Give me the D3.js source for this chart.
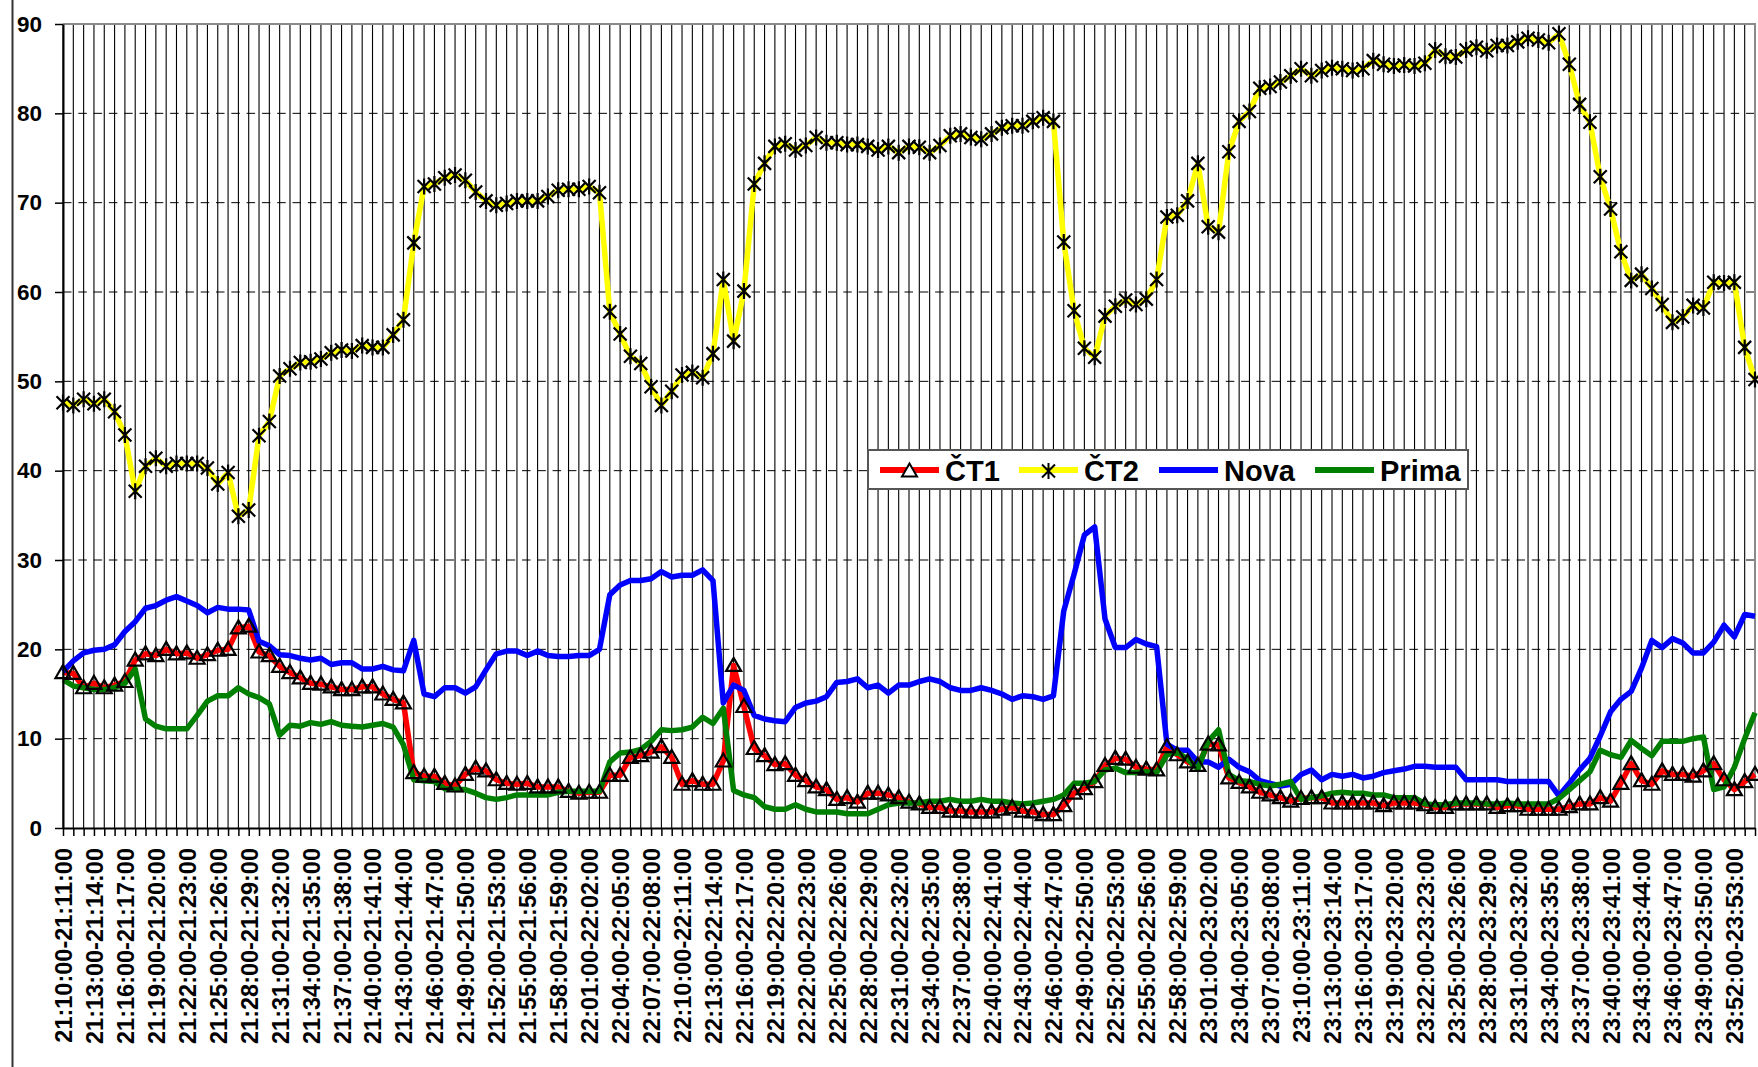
<!DOCTYPE html>
<html>
<head>
<meta charset="utf-8">
<script src="https://cdn.jsdelivr.net/npm/d3@7/dist/d3.min.js"></script>
<style>
  html, body { margin: 0; padding: 0; background: #fff; }
  svg { display: block; font-family: "Liberation Sans", Arial, sans-serif; }
</style>
</head>
<body>
<svg id="chart" width="1758" height="1067"></svg>
<script>
/* ── data ── */
const startMinute = 21 * 60 + 10; // first interval 21:10:00-21:11:00
const pointCount = 165;

const ct1 = [
  17.4, 17.3, 15.7, 16.2, 15.7, 16.0, 16.4, 18.8, 19.5, 19.3,
  20.0, 19.5, 19.6, 19.0, 19.4, 19.9, 20.0, 22.4, 22.6, 19.7,
  19.3, 18.1, 17.4, 16.8, 16.2, 16.1, 15.8, 15.5, 15.5, 15.8,
  15.8, 15.0, 14.4, 14.0, 6.2, 5.8, 5.8, 5.0, 4.7, 6.0,
  6.7, 6.4, 5.4, 5.0, 4.9, 5.0, 4.6, 4.6, 4.6, 4.1,
  3.9, 4.0, 4.0, 5.9, 5.9, 7.9, 8.1, 8.5, 9.1, 7.9,
  4.9, 5.3, 4.9, 4.9, 7.5, 18.2, 13.6, 8.9, 8.1, 7.1,
  7.2, 5.9, 5.3, 4.6, 4.3, 3.2, 3.4, 2.9, 3.9, 3.9,
  3.7, 3.4, 2.9, 2.7, 2.3, 2.3, 1.9, 1.9, 1.8, 1.8,
  1.8, 2.1, 2.3, 1.9, 1.8, 1.5, 1.5, 2.5, 3.9, 4.4,
  5.2, 7.0, 7.8, 7.7, 6.8, 6.6, 6.5, 9.1, 8.2, 7.4,
  7.0, 9.4, 9.3, 5.6, 5.1, 4.6, 4.0, 3.7, 3.4, 3.0,
  3.3, 3.4, 3.4, 2.8, 2.8, 2.8, 2.8, 2.8, 2.5, 2.8,
  2.8, 2.8, 2.6, 2.3, 2.3, 2.7, 2.7, 2.7, 2.7, 2.3,
  2.5, 2.5, 2.1, 2.1, 2.1, 2.1, 2.4, 2.7, 2.7, 3.4,
  3.0, 5.0, 7.2, 5.3, 4.9, 6.4, 6.0, 6.0, 5.8, 6.4,
  7.2, 5.4, 4.3, 5.2, 6.0
];

const ct2 = [
  47.6, 47.3, 48.0, 47.5, 48.0, 46.6, 44.0, 37.7, 40.5, 41.4,
  40.5, 40.8, 40.8, 40.8, 40.3, 38.5, 39.8, 34.9, 35.6, 43.9,
  45.5, 50.6, 51.4, 52.1, 52.2, 52.5, 53.2, 53.5, 53.4, 54.0,
  53.8, 53.8, 55.2, 56.9, 65.5, 71.8, 72.1, 72.8, 73.1, 72.5,
  71.2, 70.2, 69.7, 69.9, 70.2, 70.2, 70.2, 70.7, 71.4, 71.5,
  71.5, 71.8, 71.1, 57.8, 55.3, 52.8, 52.0, 49.4, 47.3, 48.9,
  50.7, 51.0, 50.4, 53.1, 61.4, 54.5, 60.1, 72.1, 74.4, 76.3,
  76.6, 75.9, 76.4, 77.3, 76.7, 76.7, 76.5, 76.5, 76.3, 75.9,
  76.3, 75.6, 76.3, 76.2, 75.6, 76.4, 77.5, 77.7, 77.3, 77.1,
  77.7, 78.4, 78.6, 78.6, 79.1, 79.5, 79.1, 65.6, 57.9, 53.7,
  52.7, 57.3, 58.4, 59.1, 58.6, 59.2, 61.4, 68.4, 68.6, 70.2,
  74.4, 67.3, 66.7, 75.7, 79.1, 80.2, 82.8, 83.0, 83.5, 84.2,
  85.0, 84.2, 84.8, 85.1, 85.0, 84.8, 85.0, 85.9, 85.5, 85.3,
  85.4, 85.3, 85.6, 87.1, 86.4, 86.3, 87.1, 87.4, 87.0, 87.6,
  87.6, 88.0, 88.4, 88.2, 87.9, 88.9, 85.5, 81.0, 79.0, 72.9,
  69.3, 64.5, 61.3, 62.0, 60.4, 58.6, 56.6, 57.2, 58.5, 58.2,
  61.1, 61.0, 61.1, 53.8, 50.2
];

const nova = [
  17.5, 18.7, 19.6, 19.9, 20.0, 20.5, 22.0, 23.1, 24.6, 24.9,
  25.5, 25.9, 25.4, 24.9, 24.1, 24.7, 24.5, 24.5, 24.4, 20.9,
  20.4, 19.4, 19.3, 19.0, 18.8, 19.0, 18.3, 18.5, 18.5, 17.8,
  17.8, 18.1, 17.7, 17.6, 21.0, 15.0, 14.7, 15.7, 15.7, 15.1,
  15.8, 17.7, 19.5, 19.8, 19.8, 19.3, 19.8, 19.3, 19.2, 19.2,
  19.3, 19.3, 20.0, 26.1, 27.2, 27.7, 27.7, 27.9, 28.7, 28.1,
  28.3, 28.3, 28.9, 27.7, 14.0, 16.0, 15.4, 12.6, 12.2, 12.0,
  11.9, 13.5, 14.0, 14.2, 14.7, 16.3, 16.4, 16.7, 15.7, 16.0,
  15.1, 16.0, 16.0, 16.4, 16.7, 16.4, 15.7, 15.4, 15.4, 15.7,
  15.4, 15.0, 14.4, 14.8, 14.7, 14.4, 14.8, 24.3, 28.4, 32.8,
  33.7, 23.4, 20.2, 20.2, 21.1, 20.6, 20.3, 9.4, 8.7, 8.7,
  7.4, 7.4, 6.8, 7.7, 6.8, 6.3, 5.3, 5.0, 4.7, 4.9,
  6.0, 6.5, 5.4, 6.0, 5.8, 6.0, 5.6, 5.8, 6.2, 6.4,
  6.6, 6.9, 6.9, 6.8, 6.8, 6.8, 5.4, 5.4, 5.4, 5.4,
  5.2, 5.2, 5.2, 5.2, 5.2, 3.6, 5.0, 6.5, 7.8, 10.3,
  13.0, 14.4, 15.3, 17.9, 21.0, 20.2, 21.2, 20.7, 19.6, 19.6,
  20.8, 22.7, 21.4, 23.9, 23.7
];

const prima = [
  16.6, 15.9, 15.7, 15.5, 15.5, 15.7, 16.2, 17.8, 12.2, 11.4,
  11.1, 11.1, 11.1, 12.6, 14.2, 14.8, 14.8, 15.7, 15.0, 14.6,
  13.9, 10.4, 11.5, 11.4, 11.8, 11.6, 11.9, 11.5, 11.4, 11.3,
  11.5, 11.7, 11.3, 9.3, 5.4, 5.3, 5.2, 4.4, 4.3, 4.3,
  3.9, 3.4, 3.2, 3.4, 3.7, 3.7, 3.7, 3.7, 4.0, 4.1,
  4.1, 4.1, 4.1, 7.4, 8.4, 8.5, 8.8, 9.7, 11.0, 10.9,
  11.0, 11.3, 12.4, 11.7, 13.4, 4.2, 3.7, 3.4, 2.4, 2.1,
  2.1, 2.6, 2.1, 1.8, 1.8, 1.8, 1.6, 1.6, 1.6, 2.1,
  2.6, 2.8, 2.8, 2.8, 3.0, 3.0, 3.2, 3.0, 3.0, 3.2,
  3.0, 3.0, 2.8, 2.7, 2.8, 3.0, 3.2, 3.7, 5.0, 5.0,
  5.2, 6.5, 6.7, 6.2, 6.2, 6.3, 6.2, 8.2, 8.5, 7.7,
  6.6, 9.7, 11.0, 6.0, 5.3, 5.2, 4.9, 4.7, 4.9, 5.2,
  3.2, 3.4, 3.6, 3.9, 4.0, 3.9, 3.9, 3.7, 3.7, 3.4,
  3.4, 3.4, 2.7, 2.6, 2.6, 2.8, 2.8, 2.8, 2.7, 2.7,
  2.8, 2.7, 2.7, 2.7, 2.7, 3.3, 4.3, 5.3, 6.3, 8.7,
  8.2, 7.9, 9.8, 8.9, 8.1, 9.7, 9.7, 9.7, 10.0, 10.2,
  4.3, 4.6, 6.8, 10.0, 12.9
];

const yTicks = [0, 10, 20, 30, 40, 50, 60, 70, 80, 90];
const labelEvery = 3;

// category labels "hh:mm:00-hh:mm:00", one per minute
const pad = (n) => String(n).padStart(2, "0");
const stamp = (m) => pad(Math.floor(m / 60)) + ":" + pad(m % 60) + ":00";
const categories = d3.range(pointCount).map((i) => stamp(startMinute + i) + "-" + stamp(startMinute + i + 1));

const series = [
  { name: "ČT1", values: ct1, color: "#ff0000", marker: "triangle" },
  { name: "ČT2", values: ct2, color: "#ffff00", marker: "star" },
  { name: "Nova", values: nova, color: "#0000ff", marker: null },
  { name: "Prima", values: prima, color: "#008000", marker: null },
];

/* ── layout ── */
const plotL = 63, plotR = 1755, plotT = 24, plotB = 828;
const svg = d3.select("#chart");

const x = d3.scalePoint().domain(categories).range([plotL, plotR]).padding(0);
const y = d3.scaleLinear().domain([0, 90]).range([plotB, plotT]);

// chart-area edge on the far left
svg.append("line")
  .attr("x1", 12.5).attr("x2", 12.5).attr("y1", 0).attr("y2", 1067)
  .attr("stroke", "#333").attr("stroke-width", 2);

/* ── grid ── */
const grid = svg.append("g");
grid.selectAll("line.v")
  .data(categories)
  .join("line")
  .attr("class", "v")
  .attr("x1", (d) => x(d)).attr("x2", (d) => x(d))
  .attr("y1", plotT).attr("y2", plotB)
  .attr("stroke", "#000").attr("stroke-width", 1.1);

grid.selectAll("line.h")
  .data(yTicks.filter((t) => t > 0 && t < 90))
  .join("line")
  .attr("class", "h")
  .attr("x1", plotL).attr("x2", plotR)
  .attr("y1", (d) => y(d)).attr("y2", (d) => y(d))
  .attr("stroke", "#000").attr("stroke-width", 1)
  .attr("stroke-dasharray", "8.5,6.8");

// plot area frame (top and right)
svg.append("path")
  .attr("d", `M${plotL},${plotT}H${plotR}V${plotB}`)
  .attr("fill", "none").attr("stroke", "#8a8a8a").attr("stroke-width", 2);

/* ── lines ── */
const line = d3.line()
  .x((d, i) => x(categories[i]))
  .y((d) => y(d));

svg.append("g").selectAll("path")
  .data(series)
  .join("path")
  .attr("d", (s) => line(s.values))
  .attr("fill", "none")
  .attr("stroke", (s) => s.color)
  .attr("stroke-width", 5.5)
  .attr("stroke-linejoin", "round");

/* ── markers ── */
const triPath = "M0,-7.5L7.5,5.5L-7.5,5.5Z";
const starPath = "M-6.5,-6.5L6.5,6.5M6.5,-6.5L-6.5,6.5M0,-8L0,8";

function drawMarkers(s) {
  svg.append("g").selectAll("path")
    .data(s.values)
    .join("path")
    .attr("transform", (d, i) => `translate(${x(categories[i])},${y(d)})`)
    .attr("d", s.marker === "triangle" ? triPath : starPath)
    .attr("fill", "none")
    .attr("stroke", "#000")
    .attr("stroke-width", 2.2)
    .attr("stroke-linejoin", "miter");
}
series.filter((s) => s.marker).forEach(drawMarkers);

/* ── axes ── */
const yAxis = svg.append("g")
  .attr("transform", `translate(${plotL},0)`)
  .call(d3.axisLeft(y).tickValues(yTicks).tickSize(8).tickSizeOuter(0).tickPadding(13));
yAxis.select(".domain").attr("stroke", "#000").attr("stroke-width", 2);
yAxis.selectAll(".tick line").attr("stroke", "#000").attr("stroke-width", 1.5);
yAxis.selectAll(".tick text")
  .attr("font-family", '"Liberation Sans", Arial, sans-serif')
  .attr("font-size", 22.5)
  .attr("font-weight", "bold")
  .attr("fill", "#000");

const xAxis = svg.append("g")
  .attr("transform", `translate(0,${plotB})`)
  .call(d3.axisBottom(x).tickSize(8).tickSizeOuter(0)
    .tickFormat((d, i) => (i % labelEvery === 0 ? d : "")));
xAxis.select(".domain").attr("stroke", "#000").attr("stroke-width", 2);
xAxis.selectAll(".tick line").attr("stroke", "#000").attr("stroke-width", 1.5);
xAxis.selectAll(".tick text")
  .attr("transform", "rotate(-90)")
  .attr("text-anchor", "end")
  .attr("x", -20)
  .attr("y", 0)
  .attr("dy", "0.36em")
  .attr("font-family", '"Liberation Sans", Arial, sans-serif')
  .attr("font-size", 23.5)
  .attr("font-weight", "bold")
  .attr("fill", "#000");

/* ── legend ── */
const legend = svg.append("g");
legend.append("rect")
  .attr("x", 868).attr("y", 450).attr("width", 600).attr("height", 39)
  .attr("fill", "#fff").attr("stroke", "#555").attr("stroke-width", 2);

const legendX = [880, 1019, 1159, 1315];
series.forEach((s, i) => {
  const lx = legendX[i], ly = 470;
  legend.append("line")
    .attr("x1", lx).attr("x2", lx + 59).attr("y1", ly).attr("y2", ly)
    .attr("stroke", s.color).attr("stroke-width", 6);
  if (s.marker) {
    legend.append("path")
      .attr("transform", `translate(${lx + 29.5},${ly + 1})`)
      .attr("d", s.marker === "triangle" ? triPath : starPath)
      .attr("fill", s.marker === "triangle" ? "#fff" : "none")
      .attr("stroke", "#000").attr("stroke-width", 2);
  }
  legend.append("text")
    .attr("x", lx + 65).attr("y", 481)
    .attr("font-size", 29).attr("font-weight", "bold")
    .attr("fill", "#000")
    .text(s.name);
});
</script>
</body>
</html>
